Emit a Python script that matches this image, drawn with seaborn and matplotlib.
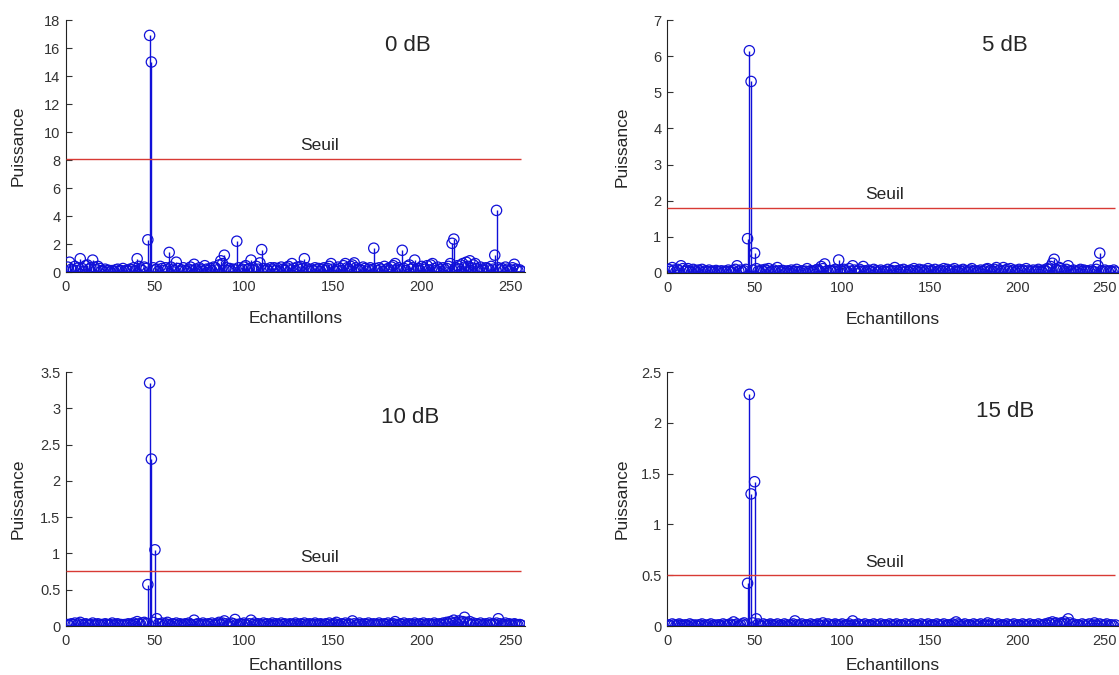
import matplotlib
matplotlib.use("Agg")
import matplotlib.pyplot as plt
import matplotlib.transforms as mtransforms
from matplotlib.ticker import FuncFormatter, MultipleLocator
import numpy as np
import seaborn as sns

sns.set_style("ticks")
plt.rcParams['font.family'] = ['Liberation Sans', 'DejaVu Sans']

# --- data (samples 1..256) ---
snr_labels = ["0 dB", "5 dB", "10 dB", "15 dB"]

p_0db = [
    0.35, 0.70, 0.20, 0.15, 0.40, 0.10, 0.30, 0.95, 0.25, 0.05, 0.45, 0.50, 0.20, 0.30, 0.85, 0.35,
    0.15, 0.40, 0.25, 0.10, 0.05, 0.20, 0.08, 0.12, 0.03, 0.10, 0.05, 0.15, 0.20, 0.07, 0.10, 0.25,
    0.05, 0.12, 0.08, 0.20, 0.15, 0.30, 0.10, 0.95, 0.40, 0.20, 0.10, 0.35, 0.25, 2.30, 16.90, 15.00,
    0.30, 0.15, 0.20, 0.05, 0.40, 0.25, 0.10, 0.30, 0.15, 1.40, 0.35, 0.20, 0.10, 0.70, 0.25, 0.05,
    0.15, 0.30, 0.10, 0.05, 0.20, 0.35, 0.10, 0.55, 0.20, 0.08, 0.30, 0.15, 0.05, 0.45, 0.20, 0.10,
    0.25, 0.10, 0.35, 0.30, 0.15, 0.50, 0.80, 0.60, 1.20, 0.30, 0.10, 0.25, 0.05, 0.20, 0.15, 2.20,
    0.30, 0.10, 0.20, 0.35, 0.45, 0.15, 0.25, 0.85, 0.30, 0.10, 0.40, 0.20, 0.65, 1.60, 0.25, 0.10,
    0.20, 0.05, 0.30, 0.15, 0.30, 0.10, 0.25, 0.05, 0.35, 0.20, 0.10, 0.30, 0.40, 0.15, 0.60, 0.25,
    0.10, 0.35, 0.20, 0.40, 0.25, 0.95, 0.30, 0.15, 0.05, 0.20, 0.10, 0.30, 0.15, 0.25, 0.05, 0.20,
    0.30, 0.10, 0.25, 0.40, 0.60, 0.20, 0.05, 0.15, 0.35, 0.25, 0.10, 0.45, 0.60, 0.30, 0.20, 0.40,
    0.50, 0.65, 0.30, 0.15, 0.20, 0.10, 0.35, 0.25, 0.05, 0.20, 0.30, 0.15, 1.70, 0.25, 0.10, 0.30,
    0.20, 0.05, 0.40, 0.15, 0.25, 0.10, 0.35, 0.45, 0.60, 0.20, 0.30, 0.15, 1.55, 0.25, 0.10, 0.40,
    0.50, 0.20, 0.30, 0.85, 0.15, 0.25, 0.10, 0.40, 0.30, 0.20, 0.45, 0.15, 0.50, 0.60, 0.25, 0.10,
    0.35, 0.20, 0.05, 0.30, 0.15, 0.25, 0.40, 0.60, 2.05, 2.35, 0.30, 0.45, 0.20, 0.50, 0.60, 0.35,
    0.70, 0.40, 0.80, 0.30, 0.50, 0.60, 0.25, 0.15, 0.35, 0.20, 0.10, 0.30, 0.25, 0.15, 0.40, 0.20,
    1.20, 4.40, 0.30, 0.15, 0.25, 0.10, 0.35, 0.20, 0.05, 0.15, 0.30, 0.55, 0.20, 0.10, 0.15, 0.05,
]

p_5db = [
    0.10, 0.05, 0.15, 0.08, 0.03, 0.10, 0.06, 0.20, 0.12, 0.04, 0.08, 0.12, 0.05, 0.02, 0.10, 0.06,
    0.03, 0.08, 0.05, 0.10, 0.02, 0.06, 0.04, 0.08, 0.03, 0.05, 0.02, 0.07, 0.04, 0.03, 0.06, 0.02,
    0.05, 0.03, 0.08, 0.04, 0.02, 0.06, 0.10, 0.20, 0.05, 0.08, 0.03, 0.06, 0.10, 0.95, 6.15, 5.30,
    0.08, 0.55, 0.12, 0.05, 0.03, 0.08, 0.04, 0.10, 0.06, 0.12, 0.03, 0.05, 0.08, 0.04, 0.15, 0.06,
    0.03, 0.07, 0.05, 0.02, 0.06, 0.04, 0.08, 0.03, 0.05, 0.10, 0.04, 0.02, 0.06, 0.03, 0.05, 0.12,
    0.04, 0.06, 0.03, 0.05, 0.08, 0.10, 0.06, 0.18, 0.12, 0.25, 0.05, 0.03, 0.07, 0.04, 0.06, 0.10,
    0.05, 0.36, 0.08, 0.04, 0.10, 0.06, 0.03, 0.12, 0.05, 0.20, 0.08, 0.04, 0.06, 0.10, 0.05, 0.18,
    0.06, 0.03, 0.08, 0.05, 0.04, 0.10, 0.06, 0.02, 0.05, 0.08, 0.03, 0.06, 0.04, 0.10, 0.05, 0.07,
    0.04, 0.15, 0.06, 0.03, 0.08, 0.05, 0.10, 0.04, 0.06, 0.03, 0.08, 0.05, 0.12, 0.06, 0.04, 0.10,
    0.05, 0.08, 0.03, 0.06, 0.12, 0.04, 0.07, 0.05, 0.10, 0.03, 0.06, 0.08, 0.04, 0.12, 0.05, 0.10,
    0.06, 0.04, 0.08, 0.12, 0.05, 0.03, 0.07, 0.04, 0.10, 0.06, 0.03, 0.05, 0.08, 0.12, 0.04, 0.06,
    0.03, 0.05, 0.08, 0.04, 0.06, 0.10, 0.12, 0.05, 0.08, 0.04, 0.10, 0.15, 0.06, 0.08, 0.04, 0.15,
    0.06, 0.10, 0.04, 0.12, 0.05, 0.08, 0.03, 0.06, 0.10, 0.04, 0.08, 0.05, 0.12, 0.06, 0.03, 0.05,
    0.08, 0.04, 0.06, 0.10, 0.05, 0.03, 0.08, 0.06, 0.12, 0.10, 0.18, 0.27, 0.38, 0.10, 0.06, 0.15,
    0.12, 0.08, 0.05, 0.10, 0.20, 0.06, 0.04, 0.08, 0.05, 0.03, 0.06, 0.10, 0.04, 0.08, 0.05, 0.06,
    0.04, 0.08, 0.05, 0.03, 0.10, 0.20, 0.55, 0.06, 0.04, 0.08, 0.05, 0.03, 0.06, 0.04, 0.08, 0.03,
]

p_10db = [
    0.02, 0.01, 0.03, 0.02, 0.04, 0.01, 0.03, 0.05, 0.02, 0.01, 0.03, 0.02, 0.01, 0.02, 0.04, 0.01,
    0.02, 0.03, 0.01, 0.02, 0.01, 0.03, 0.02, 0.01, 0.02, 0.04, 0.01, 0.02, 0.03, 0.01, 0.02, 0.01,
    0.02, 0.01, 0.03, 0.02, 0.01, 0.04, 0.02, 0.06, 0.03, 0.02, 0.04, 0.05, 0.03, 0.57, 3.35, 2.30,
    0.05, 1.05, 0.10, 0.03, 0.02, 0.04, 0.01, 0.03, 0.05, 0.02, 0.01, 0.03, 0.02, 0.04, 0.01, 0.03,
    0.02, 0.01, 0.03, 0.02, 0.04, 0.02, 0.01, 0.08, 0.02, 0.03, 0.01, 0.02, 0.04, 0.02, 0.01, 0.03,
    0.02, 0.04, 0.01, 0.02, 0.03, 0.05, 0.02, 0.04, 0.07, 0.03, 0.01, 0.02, 0.04, 0.03, 0.09, 0.02,
    0.01, 0.03, 0.02, 0.04, 0.02, 0.01, 0.03, 0.08, 0.02, 0.04, 0.01, 0.03, 0.02, 0.01, 0.04, 0.02,
    0.03, 0.01, 0.02, 0.04, 0.01, 0.03, 0.02, 0.01, 0.04, 0.02, 0.03, 0.01, 0.02, 0.03, 0.01, 0.02,
    0.04, 0.02, 0.01, 0.03, 0.02, 0.04, 0.01, 0.02, 0.03, 0.01, 0.02, 0.04, 0.02, 0.01, 0.03, 0.02,
    0.01, 0.03, 0.02, 0.04, 0.01, 0.02, 0.03, 0.05, 0.02, 0.01, 0.03, 0.02, 0.04, 0.01, 0.03, 0.02,
    0.07, 0.03, 0.01, 0.02, 0.04, 0.02, 0.01, 0.03, 0.02, 0.04, 0.01, 0.02, 0.03, 0.01, 0.02, 0.04,
    0.02, 0.01, 0.03, 0.02, 0.04, 0.01, 0.02, 0.03, 0.06, 0.02, 0.01, 0.03, 0.02, 0.04, 0.01, 0.02,
    0.03, 0.01, 0.02, 0.04, 0.02, 0.01, 0.03, 0.02, 0.04, 0.01, 0.02, 0.03, 0.01, 0.02, 0.04, 0.02,
    0.01, 0.03, 0.02, 0.04, 0.02, 0.05, 0.03, 0.06, 0.04, 0.08, 0.05, 0.03, 0.07, 0.04, 0.06, 0.12,
    0.05, 0.03, 0.06, 0.02, 0.04, 0.01, 0.03, 0.02, 0.04, 0.01, 0.02, 0.03, 0.01, 0.04, 0.02, 0.03,
    0.02, 0.04, 0.10, 0.03, 0.01, 0.02, 0.04, 0.01, 0.03, 0.02, 0.01, 0.03, 0.02, 0.01, 0.02, 0.01,
]

p_15db = [
    0.01, 0.00, 0.02, 0.01, 0.00, 0.01, 0.02, 0.01, 0.00, 0.01, 0.01, 0.00, 0.02, 0.01, 0.00, 0.01,
    0.00, 0.01, 0.01, 0.02, 0.00, 0.01, 0.00, 0.01, 0.02, 0.00, 0.01, 0.00, 0.01, 0.01, 0.00, 0.02,
    0.01, 0.00, 0.01, 0.02, 0.01, 0.04, 0.01, 0.02, 0.00, 0.01, 0.02, 0.03, 0.01, 0.42, 2.28, 1.30,
    0.03, 1.42, 0.07, 0.02, 0.01, 0.00, 0.02, 0.01, 0.00, 0.01, 0.02, 0.01, 0.00, 0.01, 0.02, 0.00,
    0.01, 0.00, 0.02, 0.01, 0.00, 0.01, 0.01, 0.02, 0.05, 0.01, 0.00, 0.01, 0.02, 0.00, 0.01, 0.01,
    0.00, 0.02, 0.01, 0.00, 0.01, 0.02, 0.01, 0.00, 0.03, 0.01, 0.00, 0.02, 0.01, 0.00, 0.01, 0.02,
    0.01, 0.00, 0.01, 0.02, 0.00, 0.01, 0.01, 0.02, 0.00, 0.05, 0.01, 0.00, 0.02, 0.01, 0.00, 0.01,
    0.02, 0.00, 0.01, 0.01, 0.00, 0.02, 0.01, 0.00, 0.01, 0.02, 0.00, 0.01, 0.01, 0.00, 0.02, 0.01,
    0.00, 0.01, 0.02, 0.00, 0.01, 0.01, 0.00, 0.02, 0.01, 0.00, 0.01, 0.02, 0.00, 0.01, 0.01, 0.00,
    0.02, 0.01, 0.00, 0.01, 0.02, 0.00, 0.01, 0.01, 0.00, 0.02, 0.01, 0.00, 0.01, 0.02, 0.00, 0.01,
    0.01, 0.00, 0.02, 0.01, 0.04, 0.02, 0.01, 0.00, 0.01, 0.02, 0.00, 0.01, 0.01, 0.00, 0.02, 0.01,
    0.00, 0.01, 0.02, 0.00, 0.01, 0.01, 0.03, 0.00, 0.02, 0.01, 0.00, 0.01, 0.02, 0.00, 0.01, 0.01,
    0.00, 0.02, 0.01, 0.00, 0.01, 0.02, 0.00, 0.01, 0.01, 0.00, 0.02, 0.01, 0.00, 0.01, 0.02, 0.00,
    0.01, 0.01, 0.00, 0.02, 0.01, 0.00, 0.01, 0.02, 0.01, 0.03, 0.02, 0.04, 0.02, 0.03, 0.01, 0.02,
    0.03, 0.02, 0.04, 0.02, 0.07, 0.03, 0.01, 0.02, 0.00, 0.01, 0.01, 0.00, 0.02, 0.01, 0.00, 0.01,
    0.02, 0.00, 0.01, 0.03, 0.01, 0.00, 0.02, 0.01, 0.00, 0.01, 0.02, 0.00, 0.01, 0.01, 0.00, 0.01,
]

seuils = [8.1, 1.8, 0.76, 0.5]
y_max = [18, 7, 3.5, 2.5]
y_step = [2, 1, 0.5, 0.5]

# --- layout / style ---
BLUE = "#1010d8"
RED = "#d83a34"
W, H = 1119, 675

# axes rectangles in pixels: left, top, right, bottom
rects_px = [(66, 20, 525, 272), (667, 20, 1119, 273),
            (66, 372, 525, 626), (667, 372, 1119, 626)]
title_pos = [(0.745, 0.90), (0.748, 0.90), (0.75, 0.82), (0.748, 0.843)]
seuil_x = [0.553, 0.482, 0.553, 0.482]
# label anchor positions in axes fraction
xlabel_y = [-0.155, -0.155, -0.125, -0.125]
ylabel_x = [-0.087, -0.082, -0.087, -0.082]

fig = plt.figure(figsize=(W / 100, H / 100), dpi=100)
series = [p_0db, p_5db, p_10db, p_15db]

for k, vals in enumerate(series):
    l, t, r, b = rects_px[k]
    ax = fig.add_axes([l / W, 1 - b / H, (r - l) / W, (b - t) / H])
    x = np.arange(1, len(vals) + 1)
    y = np.array(vals)

    # stems + baseline, then open circle markers
    ax.vlines(x, 0, y, color=BLUE, lw=1.0, zorder=2)
    ax.axhline(0, color=BLUE, lw=1.2, zorder=2)
    sns.scatterplot(x=x, y=y, ax=ax, marker="o", s=55, facecolor="none",
                    edgecolor=BLUE, linewidth=0.9, zorder=3, legend=False)

    # threshold
    ax.hlines(seuils[k], 0, len(vals), color=RED, lw=1.0, zorder=4)
    trans = mtransforms.blended_transform_factory(ax.transAxes, ax.transData)
    ax.annotate("Seuil", xy=(seuil_x[k], seuils[k]), xycoords=trans,
                xytext=(0, 9.5), textcoords="offset points",
                ha="center", va="center", fontsize=12.5)

    ax.text(title_pos[k][0], title_pos[k][1], snr_labels[k], transform=ax.transAxes,
            ha="center", va="center", fontsize=16)

    ax.set_xlim(0, 258)
    ax.set_ylim(0, y_max[k])
    ax.xaxis.set_major_locator(MultipleLocator(50))
    ax.yaxis.set_major_locator(MultipleLocator(y_step[k]))
    ax.yaxis.set_major_formatter(FuncFormatter(lambda v, _: f"{v:g}"))
    ax.tick_params(direction="in", length=4, width=0.8, labelsize=10.5,
                   colors="#333333", pad=4)
    ax.tick_params(axis="x", pad=6)
    ax.set_xlabel("Echantillons", fontsize=12.5)
    ax.set_ylabel("Puissance", fontsize=12.5)
    ax.xaxis.set_label_coords(0.5, xlabel_y[k])
    ax.yaxis.set_label_coords(ylabel_x[k], 0.5)
    sns.despine(ax=ax)
    for sp in ("left", "bottom"):
        ax.spines[sp].set_color("#222222")
        ax.spines[sp].set_linewidth(0.8)

fig.savefig("out.png", dpi=100)
